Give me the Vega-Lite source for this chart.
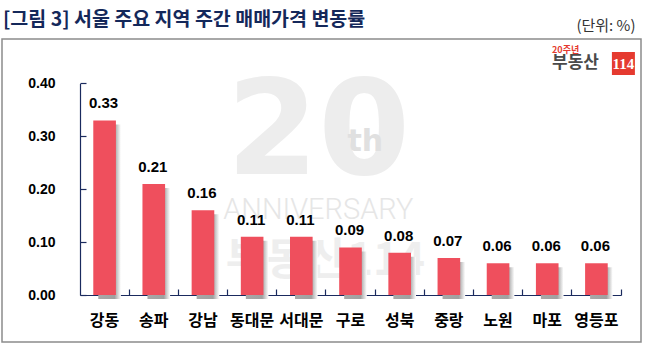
{
  "$schema": "https://vega.github.io/schema/vega-lite/v6.json",
  "autosize": {"type": "none"},
  "width": 639,
  "height": 303,
  "padding": {"left": 2, "top": 39, "right": 4, "bottom": 20},
  "background": "white",
  "title": {
    "text": "[그림 3] 서울 주요 지역 주간 매매가격 변동률",
    "anchor": "start",
    "frame": "group",
    "font": "Noto Sans CJK KR",
    "fontSize": 19.5,
    "fontWeight": "bold",
    "color": "#14285A",
    "baseline": "middle",
    "offset": 0,
    "dx": 1,
    "dy": 21
  },
  "config": {
    "view": {"stroke": "#8c8c8c", "strokeWidth": 1.5},
    "axis": {"labelOverlap": false, "grid": false}
  },
  "datasets": {
    "main": [
      {"region": "강동", "value": 0.33},
      {"region": "송파", "value": 0.21},
      {"region": "강남", "value": 0.16},
      {"region": "동대문", "value": 0.11},
      {"region": "서대문", "value": 0.11},
      {"region": "구로", "value": 0.09},
      {"region": "성북", "value": 0.08},
      {"region": "중랑", "value": 0.07},
      {"region": "노원", "value": 0.06},
      {"region": "마포", "value": 0.06},
      {"region": "영등포", "value": 0.06}
    ]
  },
  "layer": [
    {
      "data": {"name": "main"},
      "mark": {"type": "bar", "color": "#EF4F5D", "opacity": 0},
      "encoding": {
        "x": {
          "field": "region",
          "type": "nominal",
          "sort": null,
          "scale": {
            "domain": ["강동", "송파", "강남", "동대문", "서대문", "구로", "성북", "중랑", "노원", "마포", "영등포"],
            "range": [78, 619], "paddingInner": 0.54, "paddingOuter": 0.27
          },
          "axis": {
            "title": null,
            "offset": -47,
            "bandPosition": 1.587,
            "labelDx": -24.6,
            "labelAngle": 0,
            "labelFont": "Noto Sans CJK KR",
            "labelFontSize": 16,
            "labelFontWeight": "bold",
            "labelColor": "#000000",
            "labelPadding": 23,
            "domainColor": "#1A2A5E",
            "domainWidth": 1.2,
            "tickColor": "#1A2A5E",
            "tickSize": -6,
            "tickWidth": 1.2
          }
        },
        "y": {
          "field": "value",
          "type": "quantitative",
          "scale": {"domain": [0, 0.4], "range": [256, 44.4], "nice": false, "zero": true},
          "axis": {
            "values": [0, 0.1, 0.2, 0.3, 0.4],
            "format": ".2f",
            "offset": -78,
            "labelFont": "Liberation Sans",
            "labelFontSize": 14,
            "labelFontWeight": "bold",
            "labelColor": "#000000",
            "labelPadding": 31,
            "domainColor": "#1A2A5E",
            "domainWidth": 1.2,
            "tickColor": "#1A2A5E",
            "tickSize": -6,
            "tickWidth": 1.2,
            "title": "(단위: %)",
            "titleAngle": 0,
            "titleX": 555,
            "titleY": -9,
            "titleAlign": "right",
            "titleBaseline": "alphabetic",
            "titleFont": "Noto Sans CJK KR",
            "titleFontSize": 15,
            "titleFontWeight": "normal",
            "titleColor": "#333333"
          }
        }
      }
    },
    {
      "data": {"values": [{"t": "20"}]},
      "mark": {"type": "text", "font": "DejaVu Sans", "fontWeight": "bold", "fontSize": 132, "color": "#EDEDED", "baseline": "middle", "align": "center", "xOffset": 17},
      "encoding": {"x": {"datum": "서대문", "type": "nominal"}, "y": {"datum": 0.304, "type": "quantitative"}, "text": {"field": "t", "type": "nominal"}}
    },
    {
      "data": {"values": [{"t": "th"}]},
      "mark": {"type": "text", "font": "DejaVu Sans", "fontWeight": "bold", "fontSize": 30, "color": "#E0E0E0", "baseline": "middle", "align": "center", "xOffset": 64},
      "encoding": {"x": {"datum": "서대문", "type": "nominal"}, "y": {"datum": 0.29, "type": "quantitative"}, "text": {"field": "t", "type": "nominal"}}
    },
    {
      "data": {"values": [{"t": "ANNIVERSARY"}]},
      "mark": {"type": "text", "font": "Roboto", "fontWeight": 300, "fontSize": 29, "color": "#E6E6E6", "baseline": "middle", "align": "center", "xOffset": 17},
      "encoding": {"x": {"datum": "서대문", "type": "nominal"}, "y": {"datum": 0.161, "type": "quantitative"}, "text": {"field": "t", "type": "nominal"}}
    },
    {
      "data": {"values": [{"t": "부동산114"}]},
      "mark": {"type": "text", "font": "Noto Sans CJK KR", "fontWeight": "bold", "fontSize": 44, "color": "#EEEEEE", "baseline": "middle", "align": "center", "xOffset": 24},
      "encoding": {"x": {"datum": "서대문", "type": "nominal"}, "y": {"datum": 0.062, "type": "quantitative"}, "text": {"field": "t", "type": "nominal"}}
    },
    {
      "data": {"name": "main"},
      "mark": {
        "type": "bar",
        "xOffset": 5,
        "yOffset": 4,
        "fill": {
          "gradient": "linear", "x1": 0, "x2": 1, "y1": 0, "y2": 0,
          "stops": [
            {"offset": 0, "color": "#a8a8a8"},
            {"offset": 0.72, "color": "#a0a0a0"},
            {"offset": 1, "color": "#ffffff"}
          ]
        }
      },
      "encoding": {
        "x": {"field": "region", "type": "nominal", "sort": null},
        "y": {"field": "value", "type": "quantitative"}
      }
    },
    {
      "data": {"name": "main"},
      "mark": {"type": "bar", "color": "#EF4F5D"},
      "encoding": {
        "x": {"field": "region", "type": "nominal", "sort": null},
        "y": {"field": "value", "type": "quantitative"}
      }
    },
    {
      "data": {"name": "main"},
      "mark": {"type": "text", "font": "Liberation Sans", "fontWeight": "bold", "fontSize": 15, "color": "#000000", "baseline": "alphabetic", "dy": -12, "xOffset": -1},
      "encoding": {
        "x": {"field": "region", "type": "nominal", "sort": null},
        "y": {"field": "value", "type": "quantitative"},
        "text": {"field": "value", "type": "quantitative", "format": ".2f"}
      }
    },
    {
      "data": {"values": [{"t": "20주년"}]},
      "mark": {"type": "text", "font": "Noto Sans CJK KR", "fontWeight": "bold", "fontSize": 9, "color": "#E53A2F", "baseline": "middle", "align": "left", "xOffset": -44.4},
      "encoding": {"x": {"datum": "영등포", "type": "nominal"}, "y": {"datum": 0.463, "type": "quantitative"}, "text": {"field": "t", "type": "nominal"}}
    },
    {
      "data": {"values": [{"t": "부동산"}]},
      "mark": {"type": "text", "font": "Noto Sans CJK KR", "fontWeight": "bold", "fontSize": 17, "color": "#4A4A4A", "baseline": "middle", "align": "left", "xOffset": -44.4},
      "encoding": {"x": {"datum": "영등포", "type": "nominal"}, "y": {"datum": 0.4385, "type": "quantitative"}, "text": {"field": "t", "type": "nominal"}}
    },
    {
      "data": {"values": [{"t": "114"}]},
      "mark": {"type": "point", "shape": "square", "size": 529, "filled": true, "color": "#E53A2F", "opacity": 1, "xOffset": 27},
      "encoding": {"x": {"datum": "영등포", "type": "nominal"}, "y": {"datum": 0.4376, "type": "quantitative"}}
    },
    {
      "data": {"values": [{"t": "114"}]},
      "mark": {"type": "text", "font": "Liberation Sans Narrow", "fontWeight": "bold", "fontSize": 15, "color": "#FFFFFF", "baseline": "middle", "align": "center", "xOffset": 27},
      "encoding": {"x": {"datum": "영등포", "type": "nominal"}, "y": {"datum": 0.4376, "type": "quantitative"}, "text": {"field": "t", "type": "nominal"}}
    }
  ]
}
